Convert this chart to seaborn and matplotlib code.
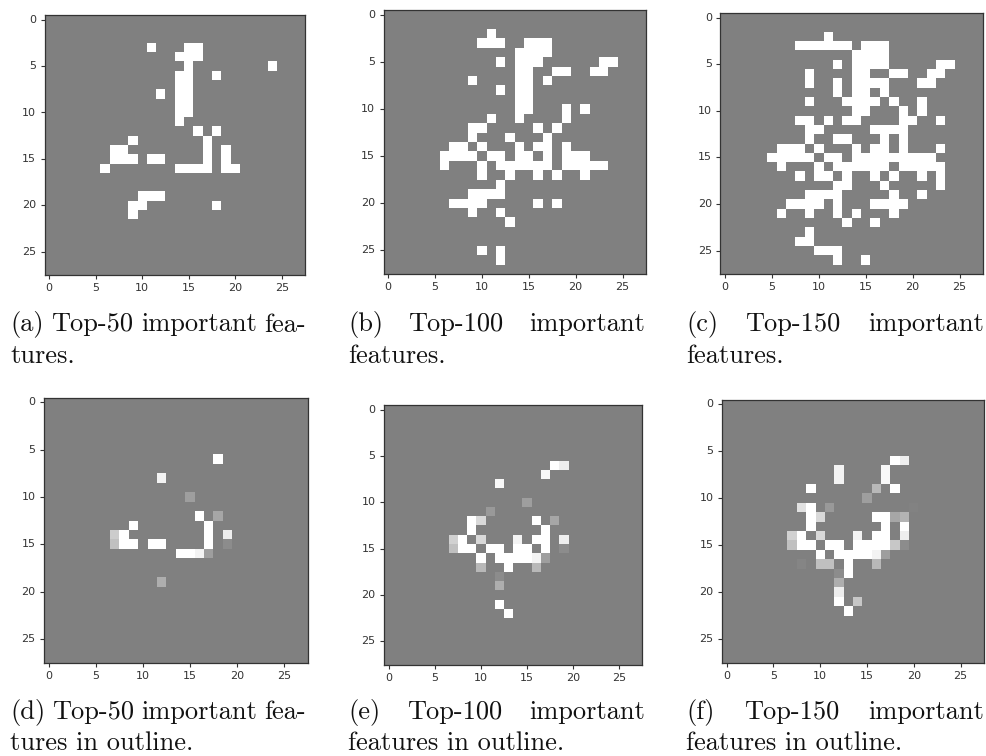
import numpy as np
import matplotlib
matplotlib.use("Agg")
import matplotlib.pyplot as plt
from matplotlib.patches import Rectangle
import seaborn as sns

W, H = 987, 756
GRID = 28
BACKGROUND = 0.5

# row -> white columns
top50 = {
    3: [11, 15, 16], 4: [14, 15, 16], 5: [15, 24], 6: [14, 15, 18], 7: [14, 15],
    8: [12, 14, 15], 9: [14, 15], 10: [14, 15], 11: [14], 12: [16, 18],
    13: [9, 17], 14: [7, 8, 17, 19], 15: [7, 8, 9, 11, 12, 17, 19],
    16: [6, 14, 15, 16, 17, 19, 20], 19: [10, 11, 12], 20: [9, 10, 18], 21: [9],
}
top100 = {
    2: [11], 3: [10, 11, 12, 15, 16, 17], 4: [14, 15, 16, 17], 5: [12, 14, 15, 16, 23, 24],
    6: [14, 15, 18, 19, 22, 23], 7: [9, 14, 15, 17], 8: [12, 14, 15], 9: [14, 15],
    10: [14, 15, 19, 21], 11: [11, 14, 19], 12: [9, 10, 16, 18], 13: [9, 13, 17],
    14: [7, 8, 10, 14, 16, 17, 19], 15: [6, 7, 8, 9, 11, 12, 14, 15, 17, 19, 20, 21],
    16: [6, 10, 12, 13, 14, 15, 16, 17, 19, 20, 21, 22, 23], 17: [10, 13, 16, 18, 21],
    18: [12], 19: [9, 10, 11, 12], 20: [7, 8, 9, 10, 16, 18], 21: [9, 12], 22: [13],
    25: [10, 12], 26: [12],
}
top150 = {
    2: [11], 3: [8, 9, 10, 11, 12, 13, 15, 16, 17], 4: [14, 15, 16, 17],
    5: [12, 14, 15, 16, 17, 23, 24], 6: [9, 14, 15, 18, 19, 22, 23],
    7: [9, 12, 14, 15, 16, 17, 21, 22], 8: [12, 14, 15, 17], 9: [9, 13, 14, 15, 16, 18, 21],
    10: [14, 15, 19, 21], 11: [8, 9, 11, 13, 14, 19, 20, 23], 12: [9, 10, 16, 17, 18, 19],
    13: [9, 12, 13, 17, 19], 14: [6, 7, 8, 10, 14, 16, 17, 19, 23],
    15: [5, 6, 7, 8, 9, 11, 12, 14, 15, 16, 17, 18, 19, 20, 21, 22],
    16: [6, 10, 12, 13, 14, 15, 16, 17, 19, 20, 21, 22, 23],
    17: [8, 10, 11, 13, 16, 18, 21, 23], 18: [12, 13, 17, 23], 19: [9, 10, 11, 12, 18, 21],
    20: [7, 8, 9, 10, 12, 16, 17, 18, 19], 21: [6, 9, 12, 14, 18], 22: [13, 16], 23: [9],
    24: [8, 9], 25: [10, 11, 12], 26: [12, 15],
}

# row -> {column: grey level}
outline50 = {
    6: {18: 1.0}, 8: {12: 0.95}, 10: {15: 0.62}, 12: {16: 1.0, 18: 0.65},
    13: {9: 1.0, 17: 1.0}, 14: {7: 0.8, 8: 1.0, 17: 1.0, 19: 0.93},
    15: {7: 0.75, 8: 1.0, 9: 1.0, 11: 1.0, 12: 1.0, 17: 1.0, 19: 0.55},
    16: {14: 1.0, 15: 1.0, 16: 0.95, 17: 0.62}, 19: {12: 0.68},
}
outline100 = {
    6: {18: 1.0, 19: 0.93}, 7: {17: 0.97}, 8: {12: 0.97}, 10: {15: 0.62}, 11: {11: 0.6},
    12: {9: 1.0, 10: 0.85, 16: 1.0, 18: 0.65}, 13: {9: 1.0, 17: 1.0},
    14: {7: 0.82, 8: 1.0, 10: 0.85, 14: 0.95, 16: 1.0, 17: 1.0, 19: 0.93},
    15: {7: 0.75, 8: 1.0, 9: 1.0, 11: 1.0, 12: 1.0, 14: 1.0, 15: 1.0, 17: 1.0, 19: 0.55},
    16: {10: 1.0, 12: 1.0, 13: 1.0, 14: 1.0, 15: 1.0, 16: 0.95, 17: 0.62},
    17: {10: 0.72, 13: 1.0, 16: 0.72}, 18: {12: 0.55}, 19: {12: 0.68}, 21: {12: 1.0}, 22: {13: 1.0},
}
outline150 = {
    6: {18: 1.0, 19: 0.93}, 7: {12: 0.95, 17: 0.97}, 8: {12: 0.95, 17: 0.97},
    9: {9: 1.0, 16: 0.72, 18: 1.0}, 10: {15: 0.62}, 11: {8: 0.88, 9: 1.0, 11: 0.6, 20: 0.51},
    12: {9: 1.0, 10: 0.85, 16: 1.0, 17: 1.0, 18: 0.65, 19: 0.7}, 13: {9: 1.0, 17: 1.0, 19: 1.0},
    14: {7: 0.82, 8: 1.0, 10: 0.85, 14: 0.95, 16: 1.0, 17: 1.0, 19: 0.93},
    15: {7: 0.75, 8: 1.0, 9: 1.0, 11: 1.0, 12: 1.0, 14: 1.0, 15: 1.0, 16: 1.0, 17: 1.0, 18: 0.78, 19: 0.55},
    16: {10: 1.0, 12: 1.0, 13: 1.0, 14: 1.0, 15: 1.0, 16: 0.95, 17: 0.62},
    17: {8: 0.52, 10: 0.75, 11: 0.75, 13: 1.0, 16: 0.72}, 18: {12: 0.55, 13: 1.0}, 19: {12: 0.68},
    20: {12: 0.93}, 21: {12: 1.0, 14: 0.78}, 22: {13: 1.0},
}

ticks = [0, 5, 10, 15, 20, 25]

caption_lines = [
    ("(a) Top-50 important fea-", "tures."),
    ("(b) Top-100 important", "features."),
    ("(c) Top-150 important", "features."),
    ("(d) Top-50 important fea-", "tures in outline."),
    ("(e) Top-100 important", "features in outline."),
    ("(f) Top-150 important", "features in outline."),
]

# left, right, top, bottom of each axes in pixels
boxes = [
    (44.5, 305, 15, 275), (383.5, 646, 10, 274), (720.5, 983, 13, 274),
    (44, 307.5, 397.5, 662.5), (384, 642.5, 405, 664.5), (722, 984, 399.5, 662.5),
]
caption_x = [(10, 306), (348, 645), (686, 984), (10, 306), (348, 645), (686, 984)]
caption_y = [331.5, 331.5, 331.5, 719, 719, 719]
LINE_GAP = 31.5
CAPTION_SIZE = 19


def binary_grid(cells):
    grid = np.full((GRID, GRID), BACKGROUND)
    for row, cols in cells.items():
        grid[row, cols] = 1.0
    return grid


def grey_grid(cells):
    grid = np.full((GRID, GRID), BACKGROUND)
    for row, levels in cells.items():
        for col, level in levels.items():
            grid[row, col] = level
    return grid


def justified_line(fig, text, left, right, y):
    # latex style: stretch the spaces so the line fills the column
    words = text.split()
    renderer = fig.canvas.get_renderer()
    items = [fig.text(left / W, 1 - y / H, w, **caption_style) for w in words]
    widths = [t.get_window_extent(renderer).width for t in items]
    gap = (right - left - sum(widths)) / (len(words) - 1)
    x = left
    for item, width in zip(items, widths):
        item.set_x(x / W)
        x += width + gap


sns.set_style("white")
plt.rcParams["font.family"] = ["DejaVu Sans"]
caption_style = dict(family=["cmr10", "DejaVu Serif"], fontsize=CAPTION_SIZE, color="#111111",
                     va="baseline", ha="left", zorder=6)

fig = plt.figure(figsize=(W / 100, H / 100), dpi=100)
grids = [binary_grid(top50), binary_grid(top100), binary_grid(top150),
         grey_grid(outline50), grey_grid(outline100), grey_grid(outline150)]

for grid, (left, right, top, bottom) in zip(grids, boxes):
    ax = fig.add_axes([left / W, 1 - bottom / H, (right - left) / W, (bottom - top) / H])
    sns.heatmap(grid, cmap="gray", vmin=0, vmax=1, cbar=False, square=False, ax=ax)
    ax.set_xticks([t + 0.5 for t in ticks], ticks, rotation=0)
    ax.set_yticks([t + 0.5 for t in ticks], ticks, rotation=0)
    ax.tick_params(length=3, width=0.8, labelsize=8, pad=3, color="#333333",
                   labelcolor="#333333", bottom=True, left=True)
    for spine in ax.spines.values():
        spine.set_visible(True)
        spine.set_color("#333333")
        spine.set_linewidth(0.9)

# the screenshot of panel (e) is cut through its tick labels
fig.add_artist(Rectangle((340 / W, 1 - 700 / H), 310 / W, 19 / H, transform=fig.transFigure,
                         facecolor="white", edgecolor="none", zorder=5))

fig.canvas.draw()
for (first, second), (left, right), y in zip(caption_lines, caption_x, caption_y):
    justified_line(fig, first, left, right, y)
    fig.text(left / W, 1 - (y + LINE_GAP) / H, second, **caption_style)

fig.savefig("out.png", dpi=100, facecolor="white")
